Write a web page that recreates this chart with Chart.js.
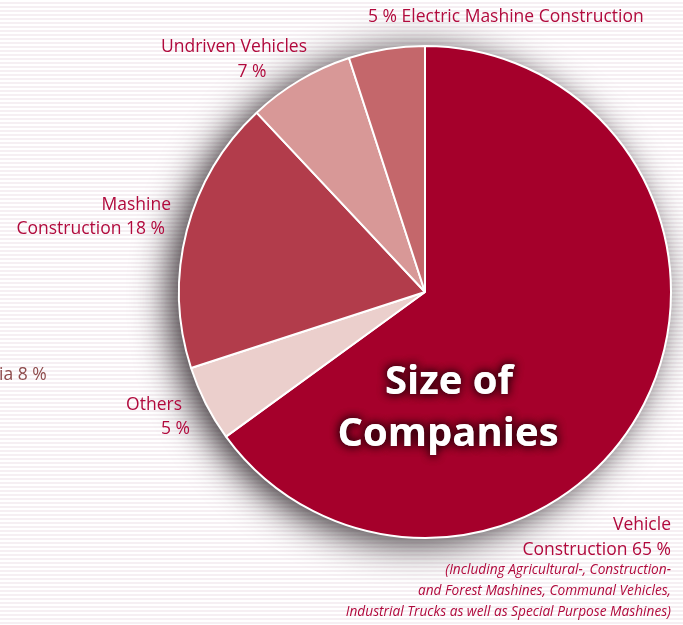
<!DOCTYPE html>
<html>
<head>
<meta charset="utf-8">
<script src="https://cdn.jsdelivr.net/npm/chart.js@4"></script>
<style>
  html, body { margin: 0; padding: 0; }
  body {
    width: 683px; height: 625px; overflow: hidden;
    background: repeating-linear-gradient(to bottom, #ffffff 0px, #ffffff 2px, #f6eff3 2px, #f6eff3 4px);
  }
  #wrap { position: relative; width: 683px; height: 625px; }
</style>
</head>
<body>
<div id="wrap"><canvas id="sizeChart" width="683" height="625"></canvas></div>
<script>
const TEXT_RED  = '#b10a3d';
const FONT      = '"Open Sans", "Noto Sans", sans-serif';

// data, clockwise from 12 o'clock
const categories   = ['Vehicle Construction', 'Others', 'Mashine Construction', 'Undriven Vehicles', 'Electric Mashine Construction'];
const shares       = [65, 5, 18, 7, 5];
const sliceColours = ['#a5002b', '#ebcfcc', '#b23c4b', '#d89897', '#c4676b'];

const centreTitle  = ['Size of', 'Companies'];
const vehicleNote  = [
    '(Including Agricultural-, Construction-',
    'and Forest Mashines, Communal Vehicles,',
    'Industrial Trucks as well as Special Purpose Mashines)'
];

// label text per slice, placed by the plugin below
const labelLines = {
    'Vehicle Construction':          ['Vehicle', 'Construction ' + shares[0] + ' %'],
    'Others':                        ['Others', shares[1] + ' %'],
    'Mashine Construction':          ['Mashine', 'Construction ' + shares[2] + ' %'],
    'Undriven Vehicles':             ['Undriven Vehicles', shares[3] + ' %'],
    'Electric Mashine Construction': [shares[4] + ' % Electric Mashine Construction']
};


// soft shadow behind the whole disc
const discShadow = {
    id: 'discShadow',
    beforeDatasetsDraw(chart) {
        const arc = chart.getDatasetMeta(0).data[0];
        if (!arc) return;
        const ctx = chart.ctx;
        ctx.save();
        ctx.shadowColor = 'rgba(20,10,15,0.85)';
        ctx.shadowBlur = 36;
        ctx.shadowOffsetX = -10;
        ctx.shadowOffsetY = 5;
        ctx.fillStyle = '#ffffff';
        ctx.beginPath();
        ctx.arc(arc.x, arc.y, arc.outerRadius, 0, Math.PI * 2);
        ctx.fill();
        ctx.restore();
    }
};


const drawLines = (ctx, lines, x, y, step, align) => {
    ctx.textAlign = align;
    lines.forEach((line, i) => ctx.fillText(line, x, y + i * step));
}


const sliceLabels = {
    id: 'sliceLabels',
    afterDatasetsDraw(chart) {
        const arc = chart.getDatasetMeta(0).data[0];
        const ctx = chart.ctx;
        const cx = arc.x, cy = arc.y;

        ctx.save();
        ctx.textBaseline = 'alphabetic';
        ctx.fillStyle = TEXT_RED;
        ctx.font = '17.5px ' + FONT;

        drawLines(ctx, labelLines['Electric Mashine Construction'], cx - 57, cy - 270, 24, 'left');

        ctx.textAlign = 'center';
        ctx.fillText(labelLines['Undriven Vehicles'][0], cx - 191, cy - 240);
        ctx.fillText(labelLines['Undriven Vehicles'][1], cx - 173, cy - 215);

        ctx.textAlign = 'right';
        ctx.fillText(labelLines['Mashine Construction'][0], cx - 254, cy - 82);
        ctx.fillText(labelLines['Mashine Construction'][1], cx - 260, cy - 58);

        ctx.fillText(labelLines['Others'][0], cx - 243, cy + 118);
        ctx.fillText(labelLines['Others'][1], cx - 235, cy + 142);

        drawLines(ctx, labelLines['Vehicle Construction'], cx + 246, cy + 238, 25, 'right');

        ctx.font = 'italic 13.7px ' + FONT;
        drawLines(ctx, vehicleNote, cx + 246, cy + 282, 21, 'right');

        // neighbouring chart's label cut at the page edge
        ctx.font = '17.5px ' + FONT;
        ctx.fillStyle = '#8e4b4c';
        ctx.textAlign = 'left';
        ctx.fillText('ia 8 %', -1, cy + 88);

        // title in the middle of the big slice
        ctx.font = 'bold 40px ' + FONT;
        ctx.textAlign = 'center';
        ctx.shadowColor = 'rgba(40,0,10,0.95)';
        ctx.shadowBlur = 10;
        ctx.fillStyle = '#ffffff';
        for (let k = 0; k < 2; k++) {
            ctx.fillText(centreTitle[0], cx + 24, cy + 102);
            ctx.fillText(centreTitle[1], cx + 23, cy + 154);
        }
        ctx.restore();
    }
};


const ctx = document.getElementById('sizeChart').getContext('2d');

const CHART = new Chart(ctx, {
    type: 'pie',
    data: {
        labels: categories,
        datasets: [{
            data: shares,
            backgroundColor: sliceColours,
            borderColor: '#ffffff',
            borderWidth: 2
        }]
    },
    options: {
        responsive: false,
        animation: false,
        layout: { padding: { left: 178, right: 11, top: 45, bottom: 86 } },
        plugins: {
            legend: { display: false },
            tooltip: { enabled: false }
        }
    },
    plugins: [discShadow, sliceLabels]
});
</script>
</body>
</html>
